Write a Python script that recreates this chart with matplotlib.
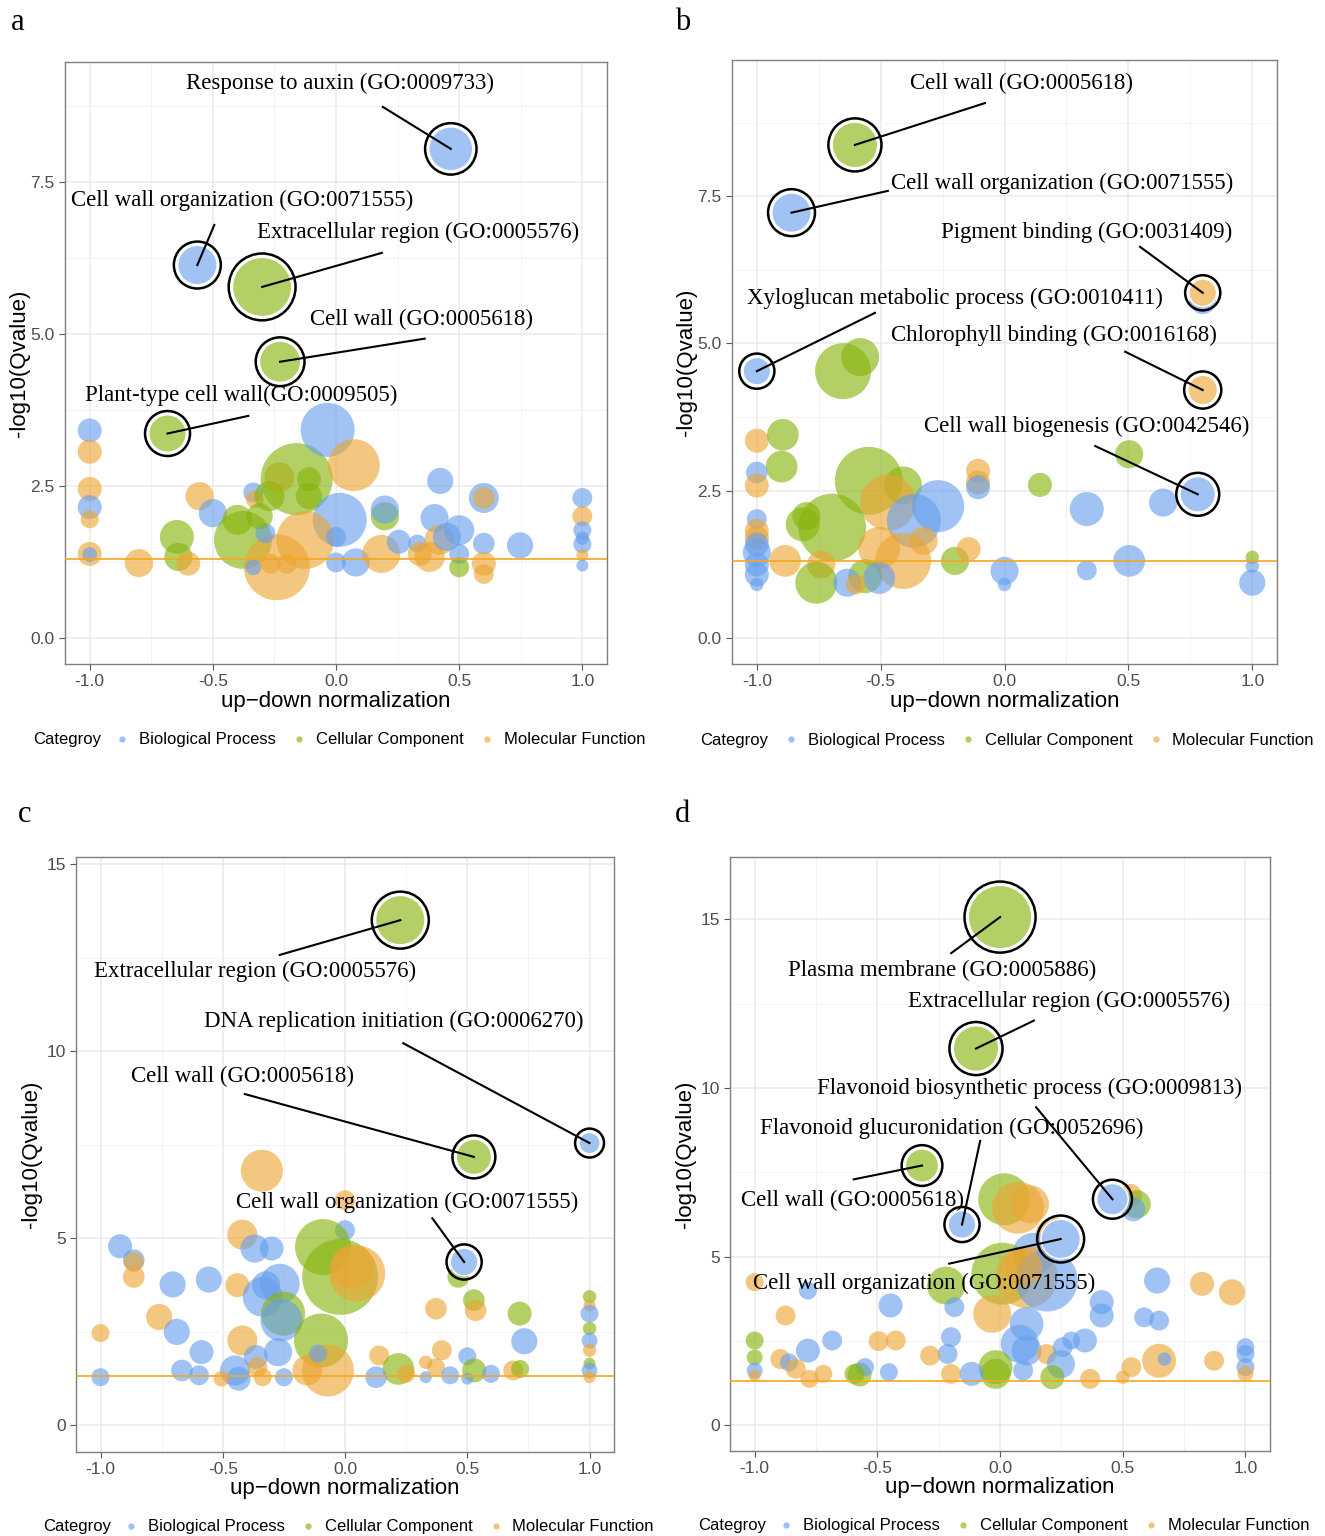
import numpy as np
import matplotlib.pyplot as plt
from matplotlib.lines import Line2D

plt.rcParams['font.family'] = ['Liberation Sans', 'DejaVu Sans']

DPI = 100
categories = ['Biological Process', 'Cellular Component', 'Molecular Function']
cat_codes = ['B', 'C', 'M']
colors = {'B': '#669FEE', 'C': '#85B30A', 'M': '#ECA533'}
qcut = -np.log10(0.05)

# ---------------- panel a ----------------
a_x = [-1.0, -1.0, -1.0, -1.0, -1.0, -1.0, -1.0, -0.80, -0.646, -0.64, -0.60, -0.554, -0.50,
       -0.378, -0.40, -0.336, -0.33, -0.27, -0.23, -0.16, -0.11, -0.11, -0.034, 0.072, 0.015,
       -0.125, -0.24, -0.336, -0.287, -0.266, -0.20, 0.0, 0.0, 0.08, 0.198, 0.198, 0.184, 0.255,
       0.33, 0.34, 0.38, 0.40, 0.423, 0.42, 0.50, 0.45, 0.50, 0.50, 0.60, 0.60, 0.60, 0.60, 0.60,
       0.747, 1.0, 1.0, 1.0, 1.0, 1.0, 1.0, 1.0, -0.31]
a_y = [3.41, 3.06, 2.45, 2.15, 1.95, 1.38, 1.37, 1.23, 1.66, 1.33, 1.22, 2.33, 2.05,
       1.61, 1.94, 2.39, 2.28, 2.33, 2.64, 2.61, 2.61, 2.33, 3.42, 2.84, 1.94,
       1.61, 1.16, 1.16, 1.72, 1.22, 1.22, 1.66, 1.24, 1.24, 2.0, 2.11, 1.38, 1.58,
       1.55, 1.38, 1.33, 1.97, 2.58, 1.61, 1.77, 1.66, 1.38, 1.16, 2.30, 2.30, 1.55, 1.22, 1.05,
       1.52, 2.30, 2.0, 1.77, 1.64, 1.54, 1.36, 1.19, 2.0]
a_n = [16, 16, 16, 16, 9, 16, 6, 22, 32, 22, 16, 22, 22,
       93, 25, 11, 9, 25, 25, 144, 16, 19, 81, 75, 81,
       93, 121, 7, 11, 11, 11, 11, 11, 22, 22, 22, 40, 16,
       9, 16, 25, 22, 19, 25, 25, 22, 11, 11, 25, 13, 13, 16, 11,
       19, 11, 11, 9, 5, 9, 4, 4, 19]
a_cat = list('BMMBMMBMCCMMB' 'CCBMCMCCCBMB' 'MMBBMMBBBCBMB' 'BMMBBMBBBCBMBMM' 'BBMBBBMB' 'C')

a_hl_x = [0.466, -0.563, -0.30, -0.227, -0.684]
a_hl_y = [8.04, 6.13, 5.77, 4.54, 3.36]
a_hl_n = [50, 40, 93, 44, 36]
a_hl_cat = ['B', 'B', 'C', 'C', 'C']
a_hl_label = ['Response to auxin (GO:0009733)', 'Cell wall organization (GO:0071555)',
              'Extracellular region (GO:0005576)', 'Cell wall (GO:0005618)',
              'Plant-type cell wall(GO:0009505)']
a_txt = [(0.016, 9.11), (-0.38, 7.19), (0.332, 6.66), (0.348, 5.23), (-0.385, 3.98)]
a_seg = [(0.19, 8.73), (-0.494, 6.79), (0.186, 6.33), (0.36, 4.92), (-0.356, 3.65)]

# ---------------- panel b ----------------
b_x = [0.80, -0.652, -0.583, -1.0, -0.895, -0.90, -1.0, -1.0, -0.548, -0.41, -0.47, -0.268, -0.366,
       -0.696, -0.815, -0.80, -0.107, -0.107, -0.107, 0.143, 0.332, 0.503, 0.64,
       -1.0, -1.0, -1.0, -1.0, -1.0, -1.0, -1.0, -1.0,
       -0.886, -0.74, -0.76, -0.41, -0.506, -0.562, -0.506, -0.635, -0.60, -0.327, -0.20,
       -0.145, 0.0, 0.0, 0.332, 0.503, 1.0, 1.0, 1.0]
b_y = [5.72, 4.53, 4.77, 3.35, 3.45, 2.91, 2.81, 2.59, 2.67, 2.59, 2.30, 2.24, 1.99,
       1.875, 1.93, 2.07, 2.84, 2.64, 2.56, 2.60, 2.19, 3.12, 2.30,
       2.02, 1.82, 1.70, 1.59, 1.45, 1.25, 1.08, 0.91,
       1.31, 1.25, 0.94, 1.31, 1.53, 1.05, 1.02, 0.94, 0.91, 1.65, 1.31,
       1.51, 1.14, 0.91, 1.15, 1.31, 1.37, 1.22, 0.94]
b_n = [19, 87, 40, 16, 28, 28, 13, 16, 128, 40, 87, 75, 81,
       128, 32, 22, 16, 16, 16, 16, 32, 22, 22,
       11, 16, 16, 16, 22, 16, 16, 5,
       28, 22, 49, 87, 49, 32, 28, 22, 11, 22, 22,
       16, 22, 5, 11, 28, 5, 5, 19]
b_cat = list('BCCMCCBMCCMBB' 'CCCMMBCBCB' 'BMMBBBBB' 'MMCMMCBBMMC' 'MBBBBCBB')

b_hl_x = [-0.604, -0.86, 0.80, -1.0, 0.80, 0.78]
b_hl_y = [8.37, 7.22, 5.86, 4.53, 4.21, 2.44]
b_hl_n = [54, 40, 19, 19, 22, 32]
b_hl_cat = ['C', 'B', 'M', 'B', 'M', 'B']
b_hl_label = ['Cell wall (GO:0005618)', 'Cell wall organization (GO:0071555)',
              'Pigment binding (GO:0031409)', 'Xyloglucan metabolic process (GO:0010411)',
              'Chlorophyll binding (GO:0016168)', 'Cell wall biogenesis (GO:0042546)']
b_txt = [(0.067, 9.42), (0.232, 7.71), (0.333, 6.88), (-0.2, 5.77), (0.2, 5.13), (0.33, 3.6)]
b_seg = [(-0.079, 9.08), (-0.471, 7.59), (0.547, 6.64), (-0.523, 5.52), (0.487, 4.86), (0.366, 3.26)]

# ---------------- panel c ----------------
c_x = [-0.34, 0.0, 0.0, -0.42, -0.37, -0.30, -0.92, -0.864, -0.864, -0.864, -0.705, -0.557, -0.44,
       -0.267, -0.337, -0.323, -0.09, -0.02, 0.05, 0.03, -0.253, -0.26, -0.098, -0.76, -0.688,
       -1.0, -0.42, -0.587, -0.274, -0.365, -0.667, -0.597, -0.45, -0.435, -0.358, -0.337, -0.505,
       -0.25, -1.0, -0.07, -0.154, -0.11, 0.14, 0.218, 0.25, 0.127, 0.372, 0.463, 0.527, 0.534,
       0.396, 0.372, 0.33, 0.33, 0.43, 0.5, 0.528, 0.5, 0.597, 0.688, 0.716, 0.714, 0.733,
       1.0, 1.0, 1.0, 1.0, 1.0, 1.0, 1.0, 1.0, 1.0]
c_y = [6.80, 6.01, 5.21, 5.09, 4.72, 4.72, 4.78, 4.41, 4.36, 3.96, 3.76, 3.89, 3.74,
       3.78, 3.43, 3.74, 4.76, 3.96, 4.05, 4.23, 2.98, 2.80, 2.26, 2.89, 2.49,
       2.46, 2.26, 1.95, 1.95, 1.82, 1.46, 1.33, 1.46, 1.24, 1.55, 1.28, 1.24,
       1.28, 1.28, 1.46, 1.46, 1.91, 1.86, 1.50, 1.37, 1.28, 3.11, 3.96, 3.34, 3.07,
       2.0, 1.55, 1.68, 1.28, 1.33, 1.84, 1.46, 1.24, 1.37, 1.46, 1.50, 2.98, 2.24,
       3.43, 3.20, 2.98, 2.58, 2.26, 2.0, 1.64, 1.46, 1.28]
c_n = [49, 11, 11, 25, 22, 16, 16, 13, 11, 13, 19, 19, 16,
       44, 44, 22, 87, 160, 87, 54, 54, 49, 81, 19, 19,
       9, 25, 16, 22, 16, 13, 11, 25, 16, 11, 9, 7,
       9, 9, 75, 25, 9, 11, 28, 9, 13, 13, 13, 13, 13,
       11, 9, 5, 4, 9, 9, 16, 4, 9, 11, 9, 16, 19,
       5, 4, 9, 5, 7, 5, 4, 7, 4]
c_cat = list('MMBMBBBBMMBBM' 'BBBCCMMCBCMB' 'MMBBBBBBBMMM' 'BBMMBMCMBMCCM' 'MMMBBBCBBMCCB' 'CMBCBMCBM')

c_hl_x = [0.226, 1.0, 0.527, 0.487]
c_hl_y = [13.5, 7.54, 7.17, 4.36]
c_hl_n = [64, 11, 32, 19]
c_hl_cat = ['C', 'B', 'C', 'B']
c_hl_label = ['Extracellular region (GO:0005576)', 'DNA replication initiation (GO:0006270)',
              'Cell wall (GO:0005618)', 'Cell wall organization (GO:0071555)']
c_txt = [(-0.369, 12.14), (0.198, 10.78), (-0.418, 9.33), (0.255, 5.94)]
c_seg = [(-0.267, 12.57), (0.238, 10.21), (-0.41, 8.85), (0.357, 5.53)]

# ---------------- panel d ----------------
d_x = [0.017, 0.073, 0.122, 0.53, 0.557, 0.543, 0.22, 0.136, 0.01, 0.108, 0.19, 0.094, -0.22,
       -0.186, -0.032, 0.108, 0.08, 0.108, -0.018, -0.018, -0.116, -0.20, -0.214, -0.285, -0.2,
       0.094, 0.19, 0.248, 0.255, 0.213, 0.29, 0.346, 0.414, 0.414, 0.367, 0.50, 0.535, 0.648,
       0.67, 0.587, 0.648, 0.64, 0.823, 0.945, 0.872, 1.0, 1.0, 1.0, 1.0, -1.0, -0.783, -0.874,
       -0.446, -1.0, -1.0, -1.0, -1.0, -0.783, -0.684, -0.895, -0.86, -0.832, -0.776, -0.72,
       -0.495, -0.425, -0.572, -0.55, -0.453, -0.593]
d_y = [6.70, 6.45, 6.55, 6.80, 6.55, 6.40, 5.60, 5.08, 4.49, 4.39, 4.29, 4.69, 4.14,
       3.50, 3.30, 3.0, 2.41, 2.21, 1.72, 1.52, 1.52, 2.61, 2.11, 2.06, 1.52,
       1.62, 2.11, 1.81, 2.31, 1.42, 2.51, 2.51, 3.65, 3.25, 1.37, 1.42, 1.72, 1.91,
       1.96, 3.20, 3.10, 4.29, 4.19, 3.94, 1.91, 2.31, 2.11, 1.72, 1.52, 4.24, 3.99, 3.25,
       3.55, 2.51, 2.01, 1.62, 1.47, 2.21, 2.51, 1.96, 1.86, 1.67, 1.37, 1.52,
       2.49, 2.51, 1.50, 1.72, 1.57, 1.52]
d_n = [75, 75, 40, 16, 22, 16, 40, 49, 107, 107, 107, 40, 40,
       11, 40, 32, 40, 25, 32, 25, 16, 11, 11, 11, 11,
       11, 11, 22, 11, 16, 9, 16, 16, 16, 11, 5, 11, 32,
       5, 11, 11, 19, 16, 19, 11, 9, 9, 9, 7, 9, 9, 11,
       16, 9, 7, 7, 4, 16, 11, 11, 9, 11, 9, 9,
       11, 11, 16, 9, 9, 11]
d_cat = list('CMMMCBMBCMBMC' 'BMBBBCCBBBMM' 'BMBBCBBBBMMMM' 'BBBBMMMBBBMM' 'BMBCCBMBBMBMMM' 'MMCBBC')

d_hl_x = [0.0, -0.098, 0.458, -0.155, -0.318, 0.247]
d_hl_y = [15.07, 11.17, 6.70, 5.95, 7.70, 5.52]
d_hl_n = [107, 54, 25, 19, 28, 40]
d_hl_cat = ['C', 'C', 'B', 'B', 'C', 'B']
d_hl_label = ['Plasma membrane (GO:0005886)', 'Extracellular region (GO:0005576)',
              'Flavonoid biosynthetic process (GO:0009813)',
              'Flavonoid glucuronidation (GO:0052696)', 'Cell wall (GO:0005618)',
              'Cell wall organization (GO:0071555)']
d_txt = [(-0.238, 13.5), (0.28, 12.57), (0.12, 10.0), (-0.199, 8.79), (-0.6, 6.67), (-0.311, 4.21)]
d_seg = [(-0.199, 14.0), (0.138, 12.0), (0.147, 9.43), (-0.081, 8.43), (-0.596, 7.29), (-0.207, 4.79)]


def radius_px(n):
    return 3.0 * np.sqrt(np.asarray(n, dtype=float))


def area(r_px):
    return (2 * r_px * 72.0 / DPI) ** 2


def draw_panel(ax, x, y, n, cat, hx, hy, hn, hcat, labels, txt, seg, ylim, yticks, yminor, yfmt):
    ax.set_xlim(-1.1, 1.1)
    ax.set_ylim(*ylim)
    ax.set_xticks([-1.0, -0.5, 0.0, 0.5, 1.0])
    ax.set_xticks([-0.75, -0.25, 0.25, 0.75], minor=True)
    ax.set_yticks(yticks)
    ax.set_yticks(yminor, minor=True)
    ax.set_xticklabels(['%.1f' % v for v in [-1.0, -0.5, 0.0, 0.5, 1.0]])
    ax.set_yticklabels([yfmt % v for v in yticks])
    ax.set_axisbelow(True)
    ax.grid(which='major', color='#EBEBEB', lw=1.1)
    ax.grid(which='minor', color='#F3F3F3', lw=0.7)
    ax.tick_params(which='major', length=4, color='#555555', labelsize=12.5, labelcolor='#4D4D4D')
    ax.tick_params(which='minor', length=0)
    for sp in ax.spines.values():
        sp.set_color('#7F7F7F')
        sp.set_linewidth(1.0)

    cols = [colors[c] for c in cat]
    ax.scatter(x, y, s=area(radius_px(n)), c=cols, alpha=0.62, linewidths=0, zorder=2)
    ax.axhline(qcut, color='#F5A623', lw=1.2, zorder=3)

    r = radius_px(hn)
    ax.scatter(hx, hy, s=area(r + 1.5), c='white', linewidths=0, zorder=4)
    ax.scatter(hx, hy, s=area(r), c=[colors[c] for c in hcat], alpha=0.62,
               linewidths=0, zorder=4)
    ax.scatter(hx, hy, s=area(r + 4.5), facecolors='none', edgecolors='black',
               linewidths=1.8, zorder=5)
    for i in range(len(hx)):
        ax.plot([seg[i][0], hx[i]], [seg[i][1], hy[i]], color='black', lw=1.5, zorder=6)
        ax.text(txt[i][0], txt[i][1], labels[i], ha='center', va='center',
                family=['Liberation Serif', 'DejaVu Serif'], fontsize=16.5, zorder=7)

    ax.set_xlabel('up\u2212down normalization', fontsize=16)
    ax.set_ylabel('-log10(Qvalue)', fontsize=16)
    ax.xaxis.set_label_coords(0.5, -0.044)
    ax.yaxis.set_label_coords(-0.064, 0.5)

    handles = [Line2D([], [], ls='none', marker='o', ms=4.5, mec='none',
                      mfc=colors[c], alpha=0.65) for c in cat_codes]
    ax.legend(handles, categories, ncol=3, loc='center', bbox_to_anchor=(0.582, -0.126),
              frameon=False, fontsize=12, handlelength=0.8, handletextpad=0.6,
              columnspacing=1.0, borderaxespad=0)
    ax.text(0.066, -0.126, 'Categroy', transform=ax.transAxes, ha='right', va='center',
            fontsize=12)


fig = plt.figure(figsize=(13.25, 15.36), dpi=DPI)
ax_a = fig.add_axes([0.0491, 0.5677, 0.409, 0.392])
ax_b = fig.add_axes([0.5525, 0.5677, 0.4113, 0.3932])
ax_c = fig.add_axes([0.0574, 0.0547, 0.406, 0.3874])
ax_d = fig.add_axes([0.551, 0.0553, 0.4075, 0.3867])

draw_panel(ax_a, a_x, a_y, a_n, a_cat, a_hl_x, a_hl_y, a_hl_n, a_hl_cat, a_hl_label, a_txt, a_seg,
           (-0.43, 9.47), [0.0, 2.5, 5.0, 7.5], [1.25, 3.75, 6.25, 8.75], '%.1f')
draw_panel(ax_b, b_x, b_y, b_n, b_cat, b_hl_x, b_hl_y, b_hl_n, b_hl_cat, b_hl_label, b_txt, b_seg,
           (-0.44, 9.81), [0.0, 2.5, 5.0, 7.5], [1.25, 3.75, 6.25, 8.75], '%.1f')
draw_panel(ax_c, c_x, c_y, c_n, c_cat, c_hl_x, c_hl_y, c_hl_n, c_hl_cat, c_hl_label, c_txt, c_seg,
           (-0.72, 15.19), [0, 5, 10, 15], [2.5, 7.5, 12.5], '%d')
draw_panel(ax_d, d_x, d_y, d_n, d_cat, d_hl_x, d_hl_y, d_hl_n, d_hl_cat, d_hl_label, d_txt, d_seg,
           (-0.77, 16.85), [0, 5, 10, 15], [2.5, 7.5, 12.5], '%d')

for letter, px, py in [('a', 18, 22), ('b', 683, 22), ('c', 25, 815), ('d', 683, 815)]:
    fig.text(px / 1325, 1 - py / 1536, letter, ha='center', va='center',
             family=['Liberation Serif', 'DejaVu Serif'], fontsize=22)

fig.savefig('out.png', dpi=DPI)
